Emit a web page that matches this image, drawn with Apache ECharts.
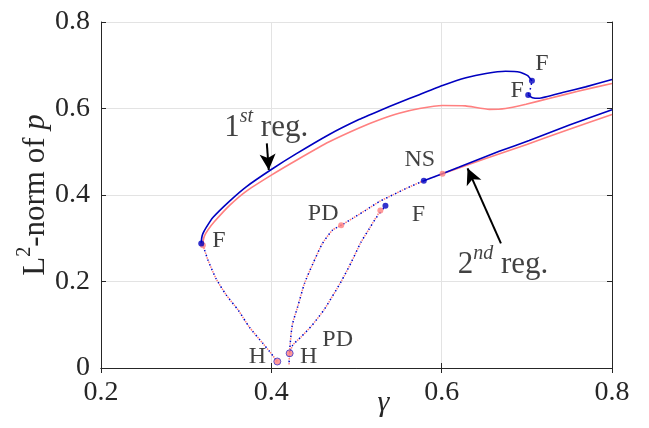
<!DOCTYPE html>
<html><head><meta charset="utf-8">
<script src="https://cdn.jsdelivr.net/npm/echarts@6/dist/echarts.min.js"></script>
<style>html,body{margin:0;padding:0;background:#fff}#c{width:649px;height:428px}</style>
</head><body><div id="c"></div>
<script>
// ---- data (gamma, L2-norm) ----
const xTicks = [0.2, 0.4, 0.6, 0.8];
const yTicks = [0, 0.2, 0.4, 0.6, 0.8];

const blueReg1Upper = [[0.3177,0.288],[0.3182,0.300],[0.3195,0.310],[0.3236,0.325],[0.3314,0.348],[0.351,0.386],[0.3705,0.419],[0.400,0.459],[0.429,0.495],[0.468,0.540],[0.5034,0.575],[0.527,0.595],[0.5503,0.614],[0.5737,0.632],[0.601,0.653],[0.6285,0.671],[0.652,0.681],[0.675,0.686],[0.692,0.684],[0.701,0.676],[0.706,0.664]];
const blueReg1Fold = [[0.706,0.664],[0.7045,0.648],[0.7016,0.631]];
const blueReg1Lower = [[0.7016,0.631],[0.7066,0.625],[0.714,0.6236],[0.742,0.637],[0.769,0.650],[0.8,0.667]];
const redReg1 = [[0.3196,0.284],[0.3201,0.295],[0.3214,0.305],[0.3255,0.319],[0.333,0.338],[0.351,0.376],[0.37,0.408],[0.4,0.446],[0.43,0.481],[0.468,0.523],[0.503,0.555],[0.527,0.574],[0.55,0.589],[0.574,0.600],[0.601,0.607],[0.628,0.606],[0.656,0.598],[0.675,0.600],[0.699,0.610],[0.726,0.623],[0.76,0.640],[0.8,0.658]];

const unstableFtoH = [[0.3177,0.288],[0.3196,0.284],[0.3255,0.250],[0.335,0.207],[0.347,0.169],[0.361,0.134],[0.374,0.095],[0.390,0.057],[0.398,0.038],[0.407,0.015]];
const unstableHtoPD = [[0.4208,0.008],[0.4213,0.034],[0.4222,0.057],[0.4233,0.080],[0.425,0.103],[0.431,0.142],[0.439,0.196],[0.449,0.242],[0.460,0.288],[0.472,0.319],[0.482,0.330]];
const unstableHtoFRed = [[0.4215,0.034],[0.4252,0.053],[0.435,0.072],[0.447,0.097],[0.462,0.135],[0.482,0.200],[0.494,0.245],[0.505,0.290],[0.515,0.322],[0.521,0.342],[0.528,0.364]];
const unstableHtoFBlue = [[0.4215,0.034],[0.4252,0.053],[0.435,0.072],[0.447,0.097],[0.462,0.135],[0.482,0.200],[0.494,0.245],[0.505,0.290],[0.515,0.322],[0.523,0.347],[0.534,0.375]];
const unstablePDtoNSBlue = [[0.482,0.330],[0.4955,0.346],[0.511,0.365],[0.527,0.385],[0.5425,0.400],[0.558,0.415],[0.579,0.433]];
const unstablePDtoNSRed = [[0.482,0.330],[0.4955,0.346],[0.511,0.365],[0.527,0.385],[0.5425,0.400],[0.558,0.415],[0.579,0.433],[0.601,0.449]];

const blueReg2 = [[0.579,0.433],[0.62,0.464],[0.6676,0.501],[0.7028,0.526],[0.75,0.562],[0.8,0.597]];
const redReg2 = [[0.601,0.449],[0.65,0.483],[0.70,0.517],[0.75,0.552],[0.8,0.586]];

const bluePoints = [[0.3177,0.288],[0.706,0.664],[0.7016,0.631],[0.534,0.375],[0.579,0.433]];
const redPoints = [[0.3196,0.284],[0.482,0.330],[0.528,0.364],[0.601,0.449]];
const hopfPoints = [[0.407,0.015],[0.4215,0.034]];

const pointLabelText = ['F','PD','F','NS','F','F','H','H','PD'];
const pointLabelAt = [[0.3196,0.284],[0.482,0.330],[0.534,0.375],[0.579,0.433],[0.706,0.664],[0.7016,0.631],[0.407,0.015],[0.4215,0.034],[0.4215,0.034]];

const regionText = ['{n|1}{s|st}{n| reg.}', '{n|2}{s|nd}{n| reg.}'];
const regionAt = [[0.394,0.562],[0.672,0.245]];
const arrowFrom = [[0.3947,0.5195],[0.6696,0.2883]];
const arrowTo = [[0.3970,0.4578],[0.6304,0.4617]];

// ---- layout / style ----
const BLUE = '#0000c0', RED = '#ff8080';
const FONT = "'Liberation Serif', 'DejaVu Serif', serif";
const labelOffsets = [[16,-4],[-18,-12],[33,9],[-4,-21],[10,-17],[-11,-4],[-20,-5],[19,3],[48,-14]];

const solid = (data, color, z) => ({type:'line', data, showSymbol:false, smooth:0.15, z, silent:true,
  lineStyle:{color, width:1.6}});
const dotted = (data, color, z, off) => ({type:'line', data, showSymbol:false, smooth:0.2, z, silent:true,
  lineStyle:{color, width:1.5, type:[1.5,3.5], dashOffset:off}});

const chart = echarts.init(document.getElementById('c'), null, {renderer:'canvas'});
const axisCommon = {
  type:'value', axisLine:{show:true, lineStyle:{color:'#262626', width:1}},
  axisTick:{show:true, inside:true, length:5, lineStyle:{color:'#262626'}},
  splitLine:{show:false}
};
const tickRich = {t:{fontFamily:FONT, fontSize:28, color:'#262626'}};
chart.setOption({
  animation:false,
  backgroundColor:'#fff',
  textStyle:{fontFamily:FONT},
  grid:{left:101, right:37, top:22, bottom:60, containLabel:false, outerBoundsMode:'none'},
  xAxis:[
    Object.assign({}, axisCommon, {min:0.2, max:0.8, interval:0.2, position:'bottom',
      axisLabel:{fontFamily:FONT, fontSize:28, color:'#262626', margin:11, rich:tickRich,
        formatter:v=>{const i=xTicks.findIndex(t=>Math.abs(t-v)<1e-9);return i>=0?'{t|'+xTicks[i]+'}':'';}},
      splitLine:{show:true, lineStyle:{color:'#e3e3e3', width:1}},
      name:'{g|γ}', nameLocation:'middle', nameGap:20, nameMoveOverlap:false,
      nameTextStyle:{padding:[0,0,0,54], rich:{g:{fontFamily:FONT, fontStyle:'italic', fontSize:30, color:'#262626'}}}}),
    Object.assign({}, axisCommon, {min:0.2, max:0.8, interval:0.2, position:'top', axisLabel:{show:false}})
  ],
  yAxis:[
    Object.assign({}, axisCommon, {min:0, max:0.8, interval:0.2, position:'left',
      axisLabel:{fontFamily:FONT, fontSize:28, color:'#262626', margin:11, rich:tickRich,
        formatter:v=>{const i=yTicks.findIndex(t=>Math.abs(t-v)<1e-9);return i>=0?'{t|'+yTicks[i]+'}':'';}},
      splitLine:{show:true, lineStyle:{color:'#e3e3e3', width:1}},
      name:'{n|L}{s|2}{n|-norm of }{i|p}', nameLocation:'middle', nameGap:50, nameRotate:90, nameMoveOverlap:false,
      nameTextStyle:{color:'#262626', rich:{
        n:{fontFamily:FONT, fontSize:31, color:'#262626', lineHeight:36, verticalAlign:'bottom'},
        s:{fontFamily:FONT, fontSize:20, color:'#262626', lineHeight:36, verticalAlign:'top'},
        i:{fontFamily:FONT, fontSize:31, fontStyle:'italic', color:'#262626', lineHeight:36, verticalAlign:'bottom'}}}}),
    Object.assign({}, axisCommon, {min:0, max:0.8, interval:0.2, position:'right', axisLabel:{show:false}})
  ],
  series:[
    solid(redReg1, RED, 2),
    solid(redReg2, RED, 2),
    dotted(unstableFtoH, RED, 2, 0),
    dotted(unstableHtoPD, RED, 2, 0),
    dotted(unstableHtoFRed, RED, 2, 0),
    dotted(unstablePDtoNSRed, RED, 2, 0),
    solid(blueReg1Upper, BLUE, 3),
    dotted(blueReg1Fold, BLUE, 3, 2.5),
    solid(blueReg1Lower, BLUE, 3),
    solid(blueReg2, BLUE, 3),
    dotted(unstableFtoH, BLUE, 3, 2.5),
    dotted(unstableHtoPD, BLUE, 3, 2.5),
    dotted(unstableHtoFBlue, BLUE, 3, 2.5),
    dotted(unstablePDtoNSBlue, BLUE, 3, 2.5),
    {type:'scatter', data:redPoints, symbol:'circle', symbolSize:6, z:4, silent:true,
      itemStyle:{color:RED}},
    {type:'scatter', data:bluePoints, symbol:'circle', symbolSize:6, z:5, silent:true,
      itemStyle:{color:BLUE}},
    {type:'scatter', data:hopfPoints, symbol:'circle', symbolSize:7, z:6, silent:true,
      itemStyle:{color:RED, borderColor:'#3a3ad0', borderWidth:1}},
    {type:'scatter', z:7, silent:true, symbolSize:0,
      data:pointLabelAt.map((p,i)=>({value:p, label:{show:true, formatter:pointLabelText[i], position:'inside',
        offset:labelOffsets[i], fontFamily:FONT, fontSize:24, color:'#111'}}))},
    {type:'scatter', z:7, silent:true, symbolSize:0,
      data:regionAt.map((p,i)=>({value:p, label:{show:true, formatter:regionText[i], position:'inside',
        rich:{n:{fontFamily:FONT, fontSize:31, color:'#111', lineHeight:36, verticalAlign:'bottom'},
              s:{fontFamily:FONT, fontSize:20, fontStyle:'italic', color:'#111', lineHeight:36, verticalAlign:'top'}}}})),
      markLine:{silent:true, symbol:['none','arrow'], symbolSize:[12,16], animation:false,
        lineStyle:{color:'#000', width:2, type:'solid'}, label:{show:false},
        data:arrowFrom.map((a,i)=>[{coord:a},{coord:arrowTo[i]}])}}
  ]
});
</script></body></html>
